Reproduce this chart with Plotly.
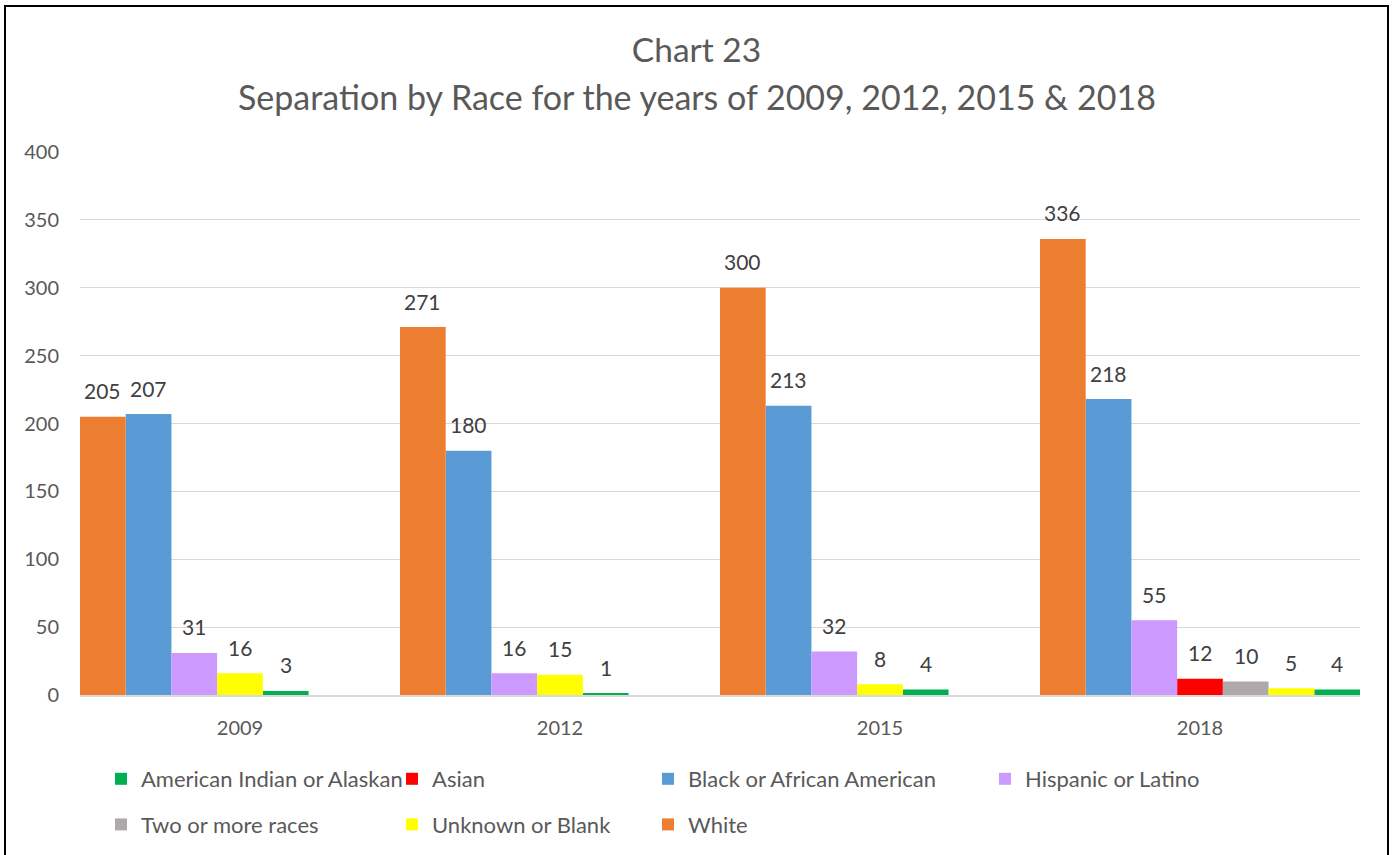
import plotly.graph_objects as go

# ---- data ----
years = ["2009", "2012", "2015", "2018"]

races = [
    "American Indian or Alaskan",
    "Asian",
    "Black or African American",
    "Hispanic or Latino",
    "Two or more races",
    "Unknown or Blank",
    "White",
]

american_indian = [3, 1, 4, 4]
asian = [None, None, None, 12]
black = [207, 180, 213, 218]
hispanic = [31, 16, 32, 55]
two_or_more = [None, None, None, 10]
unknown = [16, 15, 8, 5]
white = [205, 271, 300, 336]

values = {
    "American Indian or Alaskan": american_indian,
    "Asian": asian,
    "Black or African American": black,
    "Hispanic or Latino": hispanic,
    "Two or more races": two_or_more,
    "Unknown or Blank": unknown,
    "White": white,
}

colors = {
    "American Indian or Alaskan": "#00B050",
    "Asian": "#FF0000",
    "Black or African American": "#5B9BD5",
    "Hispanic or Latino": "#CC99FF",
    "Two or more races": "#AEAAAA",
    "Unknown or Blank": "#FFFF00",
    "White": "#ED7D31",
}

# order of the bars inside each year group (missing races leave no hole)
bar_order = [
    "White",
    "Black or African American",
    "Hispanic or Latino",
    "Asian",
    "Two or more races",
    "Unknown or Blank",
    "American Indian or Alaskan",
]

# legend column for each race
legend_of = {
    "American Indian or Alaskan": "legend",
    "Two or more races": "legend",
    "Asian": "legend2",
    "Unknown or Blank": "legend2",
    "Black or African American": "legend3",
    "White": "legend3",
    "Hispanic or Latino": "legend4",
}

slots = len(bar_order)

# position of each bar: group start + rank among the races present that year
positions = {r: [None] * len(years) for r in races}
for i in range(len(years)):
    present = [r for r in bar_order if values[r][i] is not None]
    for k, r in enumerate(present):
        positions[r][i] = i * slots + k + 0.5

FONT = "Lato"
W, H = 1393, 855
L, R, T, B = 80, 33, 152, 160
PW, PH = W - L - R, H - T - B


def px_x(p):
    return (p - L) / PW


def px_y(p):
    return (H - B - p) / PH


fig = go.Figure()
annotations = []
for r in races:
    xs = [x for x, v in zip(positions[r], values[r]) if v is not None]
    ys = [v for v in values[r] if v is not None]
    fig.add_trace(
        go.Bar(
            x=xs,
            y=ys,
            width=1,
            name=r,
            marker=dict(color=colors[r], line=dict(width=0)),
            legend=legend_of[r],
            legendgroup=r,
            hoverinfo="name+y",
        )
    )
    for x, v in zip(xs, ys):
        annotations.append(
            dict(
                x=x, y=v, xref="x", yref="y", text=str(v), showarrow=False,
                yanchor="middle", yshift=26,
                font=dict(family=FONT, size=21, color="#404040"),
            )
        )

# second title line
annotations.append(
    dict(
        x=px_x(W / 2), y=px_y(97), xref="paper", yref="paper",
        text="Separation by Race for the years of 2009, 2012, 2015 & 2018",
        showarrow=False, xanchor="center", yanchor="middle",
        font=dict(family=FONT, size=34, color="#595959"),
    )
)

legend_common = dict(
    orientation="v",
    traceorder="grouped",
    tracegroupgap=14,
    font=dict(family=FONT, size=22, color="#595959"),
    xref="container",
    yref="container",
    xanchor="left",
    yanchor="top",
    bgcolor="rgba(0,0,0,0)",
    itemclick=False,
    itemdoubleclick=False,
)
legend_top = 1 - 758 / H
col_x = [119, 410, 666, 1003]

fig.update_layout(
    width=W,
    height=H,
    margin=dict(l=L, r=R, t=T, b=B, autoexpand=False),
    paper_bgcolor="white",
    plot_bgcolor="white",
    barmode="overlay",
    title=dict(
        text="Chart 23",
        x=0.5, xref="container", xanchor="center",
        y=1 - 50 / H, yref="container", yanchor="middle",
        font=dict(family=FONT, size=33.5, color="#595959"),
    ),
    xaxis=dict(
        range=[0, slots * len(years)],
        tickmode="array",
        tickvals=[i * slots + slots / 2 for i in range(len(years))],
        ticktext=years,
        showgrid=False,
        zeroline=False,
        showline=True,
        linecolor="#D9D9D9",
        linewidth=1.5,
        ticks="",
        ticklabelstandoff=14,
        tickfont=dict(family=FONT, size=20, color="#595959"),
        fixedrange=True,
    ),
    yaxis=dict(
        range=[0, 400],
        tickmode="linear",
        tick0=0,
        dtick=50,
        showgrid=True,
        gridcolor="#D9D9D9",
        gridwidth=1,
        zeroline=False,
        showline=False,
        ticks="",
        ticklabelstandoff=20,
        tickfont=dict(family=FONT, size=20, color="#595959"),
        fixedrange=True,
    ),
    legend=dict(x=(col_x[0] - 18) / W, y=legend_top, **legend_common),
    legend2=dict(x=(col_x[1] - 18) / W, y=legend_top, **legend_common),
    legend3=dict(x=(col_x[2] - 18) / W, y=legend_top, **legend_common),
    legend4=dict(x=(col_x[3] - 18) / W, y=legend_top, **legend_common),
    annotations=annotations,
    shapes=[
        dict(
            type="rect", xref="paper", yref="paper",
            x0=px_x(5), x1=px_x(1388), y0=px_y(880), y1=px_y(6),
            line=dict(color="black", width=2), fillcolor="rgba(0,0,0,0)",
            layer="above",
        )
    ],
    showlegend=True,
)

fig.write_html("out.html")
